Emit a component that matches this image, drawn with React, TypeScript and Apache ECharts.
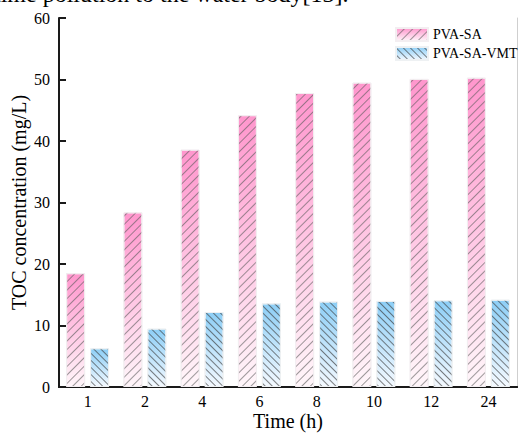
import React, { useEffect, useRef } from "react";
import * as echarts from "echarts";

const categories = ["1", "2", "4", "6", "8", "10", "12", "24"];
const pvaSa = [18.5, 28.4, 38.6, 44.2, 47.8, 49.5, 50.1, 50.3];
const pvaSaVmt = [6.3, 9.5, 12.2, 13.6, 13.9, 14.0, 14.1, 14.2];
const seriesNames = ["PVA-SA", "PVA-SA-VMT"];
const yTicks = { min: 0, max: 60, interval: 10 };
const clippedText = "time pollution to the water body[13].";

const FONT = "'Liberation Serif', 'Times New Roman', serif";

export default function App() {
  const ref = useRef<HTMLDivElement>(null);
  useEffect(() => {
    if (!ref.current) return;
    const chart = echarts.init(ref.current, null, { renderer: "svg" });
    const pinkGrad = new echarts.graphic.LinearGradient(0, 0, 0, 1, [
      { offset: 0, color: "rgb(255,150,205)" },
      { offset: 1, color: "rgb(255,246,250)" },
    ]);
    const blueGrad = new echarts.graphic.LinearGradient(0, 0, 0, 1, [
      { offset: 0, color: "rgb(140,206,246)" },
      { offset: 1, color: "rgb(244,249,255)" },
    ]);
    chart.setOption({
      animation: false,
      backgroundColor: "#fff",
      textStyle: { fontFamily: FONT },
      graphic: [
        {
          type: "text",
          left: -6,
          top: -18,
          style: {
            text: clippedText,
            font: `24px ${FONT}`,
            fill: "#000",
          },
        },
      ],
      grid: { left: 59, top: 18, right: 2, bottom: 48, outerBoundsMode: "none", containLabel: false },
      legend: {
        data: seriesNames,
        orient: "vertical",
        left: 390,
        top: 22,
        itemWidth: 32,
        itemHeight: 13,
        itemGap: 4,
        icon: "rect",
        textStyle: { fontSize: 14, fontFamily: FONT, color: "#000" },
      },
      xAxis: [
        {
          type: "category",
          data: categories,
          name: "Time (h)",
          nameLocation: "middle",
          nameGap: 24,
          nameMoveOverlap: false,
          nameTextStyle: { fontSize: 20, fontFamily: FONT, color: "#000" },
          axisLine: { lineStyle: { color: "#1a1a1a", width: 2 } },
          axisTick: { show: false },
          axisLabel: { fontSize: 16, fontFamily: FONT, color: "#000", margin: 6 },
        },
        {
          type: "category",
          data: categories,
          position: "top",
          axisLine: { lineStyle: { color: "#1a1a1a", width: 2 } },
          axisTick: { show: false },
          axisLabel: { show: false },
        },
      ],
      yAxis: [
        {
          type: "value",
          min: yTicks.min,
          max: yTicks.max,
          interval: yTicks.interval,
          name: "TOC concentration (mg/L)",
          nameLocation: "middle",
          nameGap: 30,
          nameMoveOverlap: false,
          nameTextStyle: { fontSize: 20, fontFamily: FONT, color: "#000" },
          axisLine: { show: true, lineStyle: { color: "#1a1a1a", width: 2 } },
          axisTick: { show: true, inside: true, length: 7, lineStyle: { color: "#1a1a1a", width: 2 } },
          axisLabel: { fontSize: 16, fontFamily: FONT, color: "#000", margin: 9 },
          splitLine: { show: false },
        },
        {
          type: "value",
          min: yTicks.min,
          max: yTicks.max,
          interval: yTicks.interval,
          position: "right",
          axisLine: { show: true, lineStyle: { color: "#cfcfcf", width: 1 } },
          axisTick: { show: false },
          axisLabel: { show: false },
          splitLine: { show: false },
        },
      ],
      series: [
        {
          name: seriesNames[0],
          type: "bar",
          data: pvaSa,
          barWidth: 19,
          barGap: "26%",
          itemStyle: {
            color: pinkGrad,
            borderColor: "#f3eef1",
            borderWidth: 1,
            decal: {
              symbol: "rect",
              symbolSize: 1,
              dashArrayX: [1, 0],
              dashArrayY: [1, 5],
              rotation: -Math.PI / 4,
              color: "rgba(90,90,90,0.6)",
            },
          },
        },
        {
          name: seriesNames[1],
          type: "bar",
          data: pvaSaVmt,
          barWidth: 19,
          itemStyle: {
            color: blueGrad,
            borderColor: "#eef1f3",
            borderWidth: 1,
            decal: {
              symbol: "rect",
              symbolSize: 1,
              dashArrayX: [1, 0],
              dashArrayY: [1, 4],
              rotation: Math.PI / 4,
              color: "rgba(60,60,60,0.65)",
            },
          },
        },
      ],
    });
    return () => chart.dispose();
  }, []);
  return (
    <div
      ref={ref}
      style={{ position: "fixed", left: 0, top: 0, width: 519, height: 435 }}
    />
  );
}
